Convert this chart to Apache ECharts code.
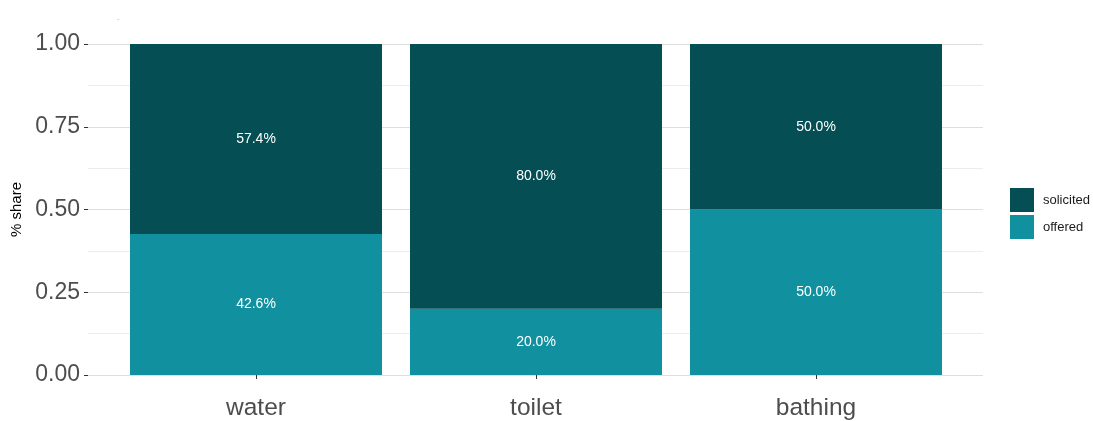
<!DOCTYPE html>
<html><head><meta charset="utf-8">
<script src="https://cdn.jsdelivr.net/npm/echarts@6/dist/echarts.min.js"></script>
<style>html,body{margin:0;padding:0;background:#fff;}#c{width:1093px;height:421px;}</style>
</head><body><div id="c"></div>
<script>
const categories = ['water', 'toilet', 'bathing'];
const offered = [0.426, 0.200, 0.500];
const solicited = [0.574, 0.800, 0.500];
const yTicks = [0, 0.25, 0.5, 0.75, 1.0];

const chart = echarts.init(document.getElementById('c'));
const FONT = 'Liberation Sans, Arial, sans-serif';
const lbl = {
  show: true, position: 'inside', color: '#ffffff', fontSize: 14, fontFamily: FONT,
  formatter: p => (p.value * 100).toFixed(1) + '%'
};
chart.setOption({
  animation: false,
  title: { text: '-', left: 112, top: 10, textStyle: { fontSize: 8, color: '#bbbbbb', fontWeight: 'normal' } },
  grid: [
    { left: 88, right: 110, top: 44, bottom: 46 },
    { left: 116, right: 137, top: 44, bottom: 46 }
  ],
  legend: {
    data: ['solicited', 'offered'], orient: 'vertical', left: 1005, top: 183,
    itemWidth: 24, itemHeight: 24, itemGap: 3, icon: 'rect',
    textStyle: { fontSize: 13, color: '#1a1a1a', fontFamily: FONT, padding: [0,0,0,4] }
  },
  xAxis: [
    { gridIndex: 0, type: 'value', min: 0, max: 1, show: false },
    { gridIndex: 1, type: 'category', data: categories, boundaryGap: true, offset: 17,
      axisLine: { show: false },
      axisTick: { show: true, alignWithLabel: true, length: 4, lineStyle: { color: '#333' } },
      axisLabel: { fontSize: 24.5, color: '#4d4d4d', margin: 4, fontFamily: FONT },
      splitLine: { show: false } }
  ],
  yAxis: [
    { gridIndex: 0, type: 'value', min: 0, max: 1, interval: 0.25,
      name: '% share', nameLocation: 'middle', nameGap: 63, nameRotate: 90,
      nameTextStyle: { fontSize: 15, color: '#000', fontFamily: FONT },
      axisLine: { show: false },
      axisTick: { show: true, length: 4, lineStyle: { color: '#333' } },
      axisLabel: { formatter: v => v.toFixed(2), fontSize: 23, color: '#4d4d4d', margin: 8, fontFamily: FONT },
      splitLine: { show: true, lineStyle: { color: '#dedede', width: 1 } },
      minorTick: { show: false, splitNumber: 2 },
      minorSplitLine: { show: true, lineStyle: { color: '#ececec', width: 1 } } },
    { gridIndex: 1, type: 'value', min: 0, max: 1, show: false }
  ],
  series: [
    { name: 'offered', type: 'bar', stack: 's', xAxisIndex: 1, yAxisIndex: 1, barWidth: 252,
      data: offered, itemStyle: { color: '#1191a0' }, label: lbl },
    { name: 'solicited', type: 'bar', stack: 's', xAxisIndex: 1, yAxisIndex: 1, barWidth: 252,
      data: solicited, itemStyle: { color: '#044e54' }, label: lbl }
  ]
});
</script></body></html>
